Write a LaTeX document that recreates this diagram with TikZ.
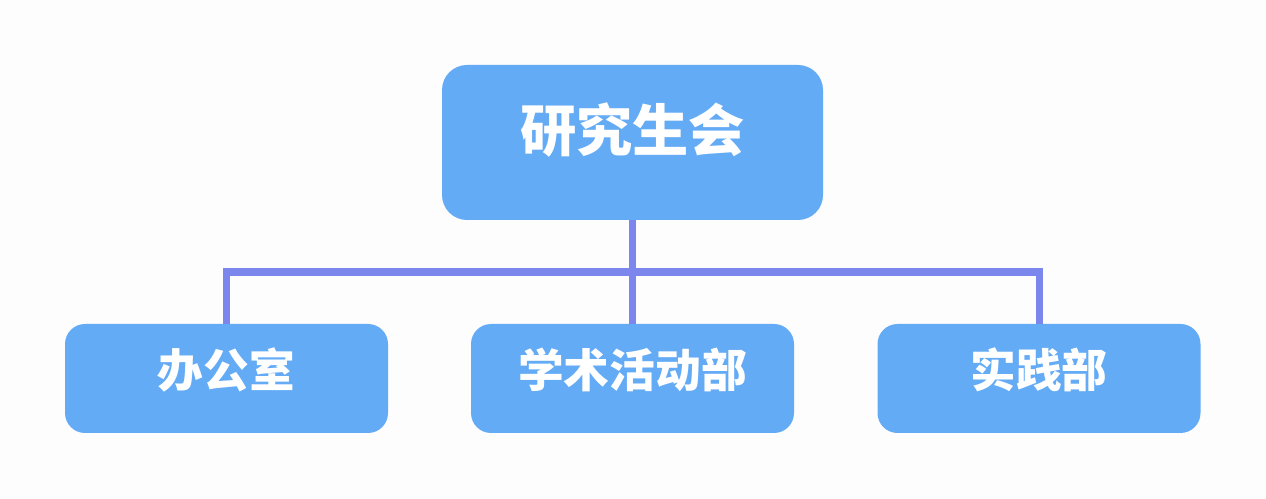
\documentclass[tikz,border=0pt]{standalone}
\usepackage{fontspec}
\usetikzlibrary{calc}
\newfontfamily\cjk{Noto Sans CJK SC}
\definecolor{boxblue}{RGB}{100,171,246}
\definecolor{linkblue}{RGB}{123,135,236}
\definecolor{paper}{RGB}{253,253,254}

\begin{document}
\begin{tikzpicture}[
  unit/.style={fill=boxblue, rounded corners=0.4cm, minimum width=6.46cm, minimum height=2.18cm,
    text=white, font=\cjk\bfseries\fontsize{26}{30}\selectfont, text height=13pt, text depth=2.6pt},
  head/.style={unit, rounded corners=0.5cm, minimum width=7.62cm, minimum height=3.1cm,
    font=\cjk\bfseries\fontsize{32}{38}\selectfont, text height=14pt, text depth=3.2pt},
  link/.style={draw=linkblue, line width=4pt}
]

\fill[paper] (0,0) rectangle (25.32,9.96);
\useasboundingbox (0,0) rectangle (25.32,9.96);

\node[head] (council) at (12.65,7.11) {研究生会};

\node[unit] (office) at (4.53,2.39) {办公室};
\node[unit] (academic) at (12.65,2.39) {学术活动部};
\node[unit] (practice) at (20.78,2.39) {实践部};

\coordinate (bus) at ($(council.south)!0.5!(academic.north)$);

\draw[link] (council.south) -- (academic.north);
\draw[link] (office.north) |- (bus) -| (practice.north);

\end{tikzpicture}
\end{document}
